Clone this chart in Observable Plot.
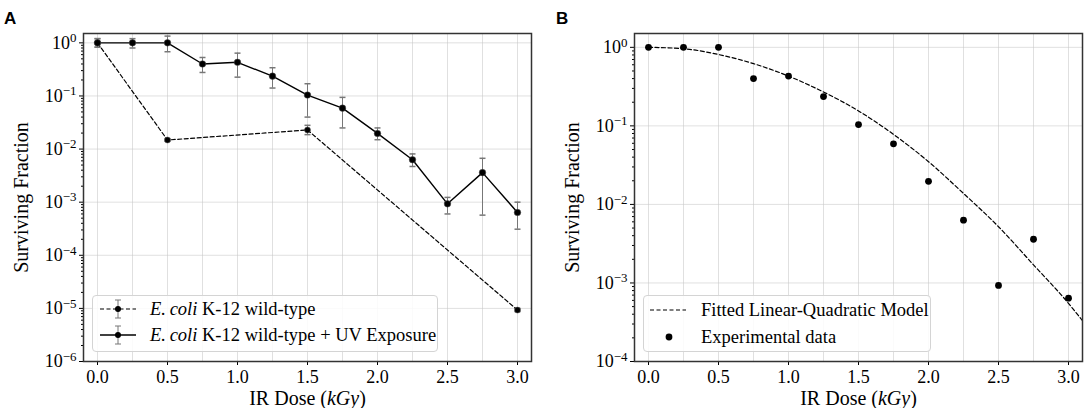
<!DOCTYPE html>
<html><head><meta charset="utf-8">
<script src="https://cdn.jsdelivr.net/npm/d3@7"></script>
<script src="https://cdn.jsdelivr.net/npm/@observablehq/plot@0.6"></script>
<style>
body{margin:0;background:#fff;}
#wrap{position:relative;width:1084px;height:408px;font-family:"Liberation Serif",serif;color:#000;overflow:hidden;}
.panel{position:absolute;top:0;}
.plabel{position:absolute;font-family:"Liberation Sans",Arial,sans-serif;font-weight:bold;font-size:17px;line-height:1;}
.legend{position:absolute;border:1px solid #d4d4d4;border-radius:4px;background:rgba(255,255,255,0.85);box-sizing:border-box;font-size:18.5px;}
.row{position:absolute;left:0;height:26px;white-space:nowrap;}
.row svg{position:absolute;left:0;top:0;}
.row span{position:absolute;top:50%;transform:translateY(-50%);line-height:1;}
</style>
</head><body>
<div id="wrap">
  <div class="panel" id="pA" style="left:0"></div>
  <div class="panel" id="pB" style="left:540px"></div>
  <div class="plabel" style="left:4px;top:10px">A</div>
  <div class="plabel" style="left:556px;top:10px">B</div>
  <div class="legend" style="left:92px;top:295px;width:346px;height:57px">
    <div class="row" style="top:0px">
      <svg width="60" height="26"><line x1="7" x2="43" y1="13" y2="13" stroke="#000" stroke-width="1.2" stroke-dasharray="4,2.5"/>
        <line x1="25" x2="25" y1="4" y2="22" stroke="#777" stroke-width="1"/>
        <line x1="22" x2="28" y1="4" y2="4" stroke="#777"/><line x1="22" x2="28" y1="22" y2="22" stroke="#777"/>
        <circle cx="25" cy="13" r="3" fill="#000"/></svg>
      <span style="left:57px"><i>E.&#8201;coli</i> K-12 wild-type</span>
    </div>
    <div class="row" style="top:25.6px">
      <svg width="60" height="26"><line x1="7" x2="43" y1="13" y2="13" stroke="#000" stroke-width="1.4"/>
        <line x1="25" x2="25" y1="4" y2="22" stroke="#777" stroke-width="1"/>
        <line x1="22" x2="28" y1="4" y2="4" stroke="#777"/><line x1="22" x2="28" y1="22" y2="22" stroke="#777"/>
        <circle cx="25" cy="13" r="3" fill="#000"/></svg>
      <span style="left:57px"><i>E.&#8201;coli</i> K-12 wild-type + UV Exposure</span>
    </div>
  </div>
  <div class="legend" style="left:643px;top:295px;width:288px;height:57px">
    <div class="row" style="top:1px">
      <svg width="60" height="26"><line x1="6" x2="42" y1="13" y2="13" stroke="#000" stroke-width="1.2" stroke-dasharray="4,2.5"/></svg>
      <span style="left:57px">Fitted Linear-Quadratic Model</span>
    </div>
    <div class="row" style="top:27.7px">
      <svg width="60" height="26"><circle cx="25" cy="13" r="3.4" fill="#000"/></svg>
      <span style="left:57px">Experimental data</span>
    </div>
  </div>
</div>
<script>
// ---- data ----
const dose   = [0, 0.25, 0.5, 0.75, 1.0, 1.25, 1.5, 1.75, 2.0, 2.25, 2.5, 2.75, 3.0];
const survUV = [1.0, 1.0, 1.0, 0.40, 0.43, 0.236, 0.104, 0.059, 0.0197, 0.0063, 0.00093, 0.0036, 0.00064];
const uvLo   = [0.83, 0.80, 0.68, 0.277, 0.226, 0.141, 0.040, 0.025, 0.015, 0.0047, 0.0006, 0.00057, 0.00031];
const uvHi   = [1.20, 1.20, 1.34, 0.53, 0.64, 0.34, 0.17, 0.094, 0.025, 0.0081, 0.00123, 0.0067, 0.0010];

const doseWT = [0, 0.5, 1.5, 3.0];
const survWT = [1.0, 0.0148, 0.0229, 9.3e-6];
const wtLo   = [0.83, 0.0140, 0.0187, 8.7e-6];
const wtHi   = [1.20, 0.0157, 0.028, 1.0e-5];

const fitDose = [0, 0.25, 0.5, 0.75, 1.0, 1.25, 1.5, 1.75, 2.0, 2.25, 2.5, 2.75, 3.0, 3.1];
const fitSurv = [1.0, 0.96, 0.81, 0.62, 0.43, 0.27, 0.155, 0.078, 0.035, 0.0138, 0.0052, 0.0017, 0.00055, 0.00033];

const xTicks = [0, 0.5, 1.0, 1.5, 2.0, 2.5, 3.0];
const xGrid  = [0, 0.25, 0.5, 0.75, 1.0, 1.25, 1.5, 1.75, 2.0, 2.25, 2.5, 2.75, 3.0];
const yTicksA = [1e-6, 1e-5, 1e-4, 1e-3, 1e-2, 1e-1, 1];
const yTicksB = [1e-4, 1e-3, 1e-2, 1e-1, 1];

// ---- tables ----
const uv = dose.map((d, i) => ({x: d, y: survUV[i], lo: uvLo[i], hi: uvHi[i]}));
const wt = doseWT.map((d, i) => ({x: d, y: survWT[i], lo: wtLo[i], hi: wtHi[i]}));
const fit = fitDose.map((d, i) => ({x: d, y: fitSurv[i]}));

const minorOf = decs => decs.slice(0, -1).flatMap(t => [2,3,4,5,6,7,8,9].map(m => t * m));
const cap = {draw(ctx, size) { const w = Math.sqrt(size / Math.PI); ctx.moveTo(-w, 0); ctx.lineTo(w, 0); }};
const fmtPow = d => "10^" + Math.round(Math.log10(d));

const common = (yTicks) => [
  Plot.gridX(xGrid, {stroke: "#c8c8c8", strokeOpacity: 0.7, strokeWidth: 0.8}),
  Plot.gridY(yTicks, {stroke: "#c8c8c8", strokeOpacity: 0.7, strokeWidth: 0.8}),
  Plot.axisX(xTicks, {tickSize: 4, tickPadding: 5, tickFormat: d => d.toFixed(1), fontSize: 18,
    label: "IR Dose (kGy)", labelAnchor: "center", labelArrow: "none", labelOffset: 43}),
  Plot.axisY(yTicks, {tickSize: 4, tickPadding: 3, tickFormat: fmtPow, fontSize: 18,
    label: "Surviving Fraction", labelAnchor: "center", labelArrow: "none", labelOffset: 70}),
  Plot.axisY(minorOf(yTicks), {tickSize: 2, tickFormat: () => "", label: null}),
];

const style = {fontFamily: "Liberation Serif, serif", background: "transparent", color: "#000", overflow: "visible"};

const A = Plot.plot({
  width: 540, height: 408, marginLeft: 83, marginRight: 9, marginTop: 33, marginBottom: 47,
  style,
  x: {domain: [-0.1, 3.1]},
  y: {type: "log", domain: [1e-6, 1.5]},
  marks: [
    ...common(yTicksA),
    Plot.ruleX(wt, {x: "x", y1: "lo", y2: "hi", stroke: "#777", strokeWidth: 1}),
    Plot.dot(wt, {x: "x", y: "lo", symbol: cap, r: 3, stroke: "#777", fill: "none"}),
    Plot.dot(wt, {x: "x", y: "hi", symbol: cap, r: 3, stroke: "#777", fill: "none"}),
    Plot.ruleX(uv, {x: "x", y1: "lo", y2: "hi", stroke: "#777", strokeWidth: 1}),
    Plot.dot(uv, {x: "x", y: "lo", symbol: cap, r: 3, stroke: "#777", fill: "none"}),
    Plot.dot(uv, {x: "x", y: "hi", symbol: cap, r: 3, stroke: "#777", fill: "none"}),
    Plot.line(wt, {x: "x", y: "y", stroke: "#000", strokeWidth: 1.2, strokeDasharray: "4,2.5"}),
    Plot.line(uv, {x: "x", y: "y", stroke: "#000", strokeWidth: 1.4}),
    Plot.dot(wt, {x: "x", y: "y", r: 3, fill: "#000", stroke: "#555", strokeWidth: 0.5}),
    Plot.dot(uv, {x: "x", y: "y", r: 3.3, fill: "#000", stroke: "#555", strokeWidth: 0.5}),
    Plot.frame({stroke: "#333", strokeWidth: 1.5})
  ]
});

const B = Plot.plot({
  width: 544, height: 408, marginLeft: 94, marginRight: 2, marginTop: 33, marginBottom: 47,
  style,
  x: {domain: [-0.1, 3.1]},
  y: {type: "log", domain: [1e-4, 1.5]},
  marks: [
    ...common(yTicksB),
    Plot.line(fit, {x: "x", y: "y", stroke: "#000", strokeWidth: 1.2, strokeDasharray: "4,2.5", curve: "monotone-x", clip: true}),
    Plot.dot(uv, {x: "x", y: "y", r: 3.4, fill: "#000"}),
    Plot.frame({stroke: "#333", strokeWidth: 1.5})
  ]
});

function fix(svg) {
  svg.querySelectorAll("text").forEach(t => {
    const s = t.textContent;
    const m = /^10\^(-?\d+)$/.exec(s);
    if (m) {
      const e = m[1].replace("-", "\u2212");
      t.innerHTML = `10<tspan dy="-0.5em" font-size="0.72em">${e}</tspan>`;
      t.style.fontSize = "18px";
    } else if (/^\d\.\d$/.test(s)) {
      t.style.fontSize = "18px";
    } else if (s === "IR Dose (kGy)") {
      t.innerHTML = `IR Dose (<tspan font-style="italic">kGy</tspan>)`;
      t.style.fontSize = "20px";
    } else if (s === "Surviving Fraction") {
      t.style.fontSize = "20px";
    }
  });
}
fix(A); fix(B);
document.getElementById("pA").append(A);
document.getElementById("pB").append(B);
</script>
</body></html>
